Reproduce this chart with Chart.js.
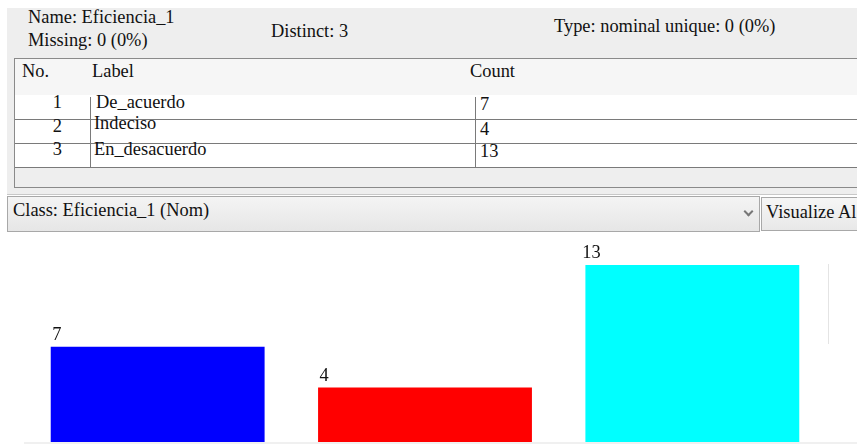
<!DOCTYPE html>
<html lang="es">
<head>
<meta charset="UTF-8">
<title>Eficiencia_1</title>
<script src="https://cdn.jsdelivr.net/npm/chart.js"></script>
<style>
  html, body { margin: 0; padding: 0; background: #fff; }
  body { width: 857px; height: 444px; position: relative; overflow: hidden;
         font-family: "Liberation Serif", "DejaVu Serif", serif; font-size: 18.4px; color: #111; }
  .t { position: absolute; line-height: 18px; white-space: nowrap; }
  .box { position: absolute; }
</style>
</head>
<body>
  <!-- attribute summary panel -->
  <div class="box" style="left:7px;top:8px;width:850px;height:186px;background:#eeeeee;"></div>
  <div class="t" style="left:28px;top:8px;">Name: Eficiencia_1</div>
  <div class="t" style="left:28px;top:31px;">Missing: 0 (0%)</div>
  <div class="t" style="left:271px;top:22px;">Distinct: 3</div>
  <div class="t" style="left:554px;top:17px;">Type: nominal unique: 0 (0%)</div>

  <!-- table -->
  <div class="box" style="left:14px;top:58px;width:850px;height:128px;border:1px solid #8a8a8a;border-right:none;background:#eeeeee;"></div>
  <div class="box" style="left:15px;top:59px;width:842px;height:36px;background:#f6f6f6;"></div>
  <div class="box" style="left:15px;top:95px;width:842px;height:72px;background:#fff;"></div>
  <div class="t" style="left:22px;top:62px;">No.</div>
  <div class="t" style="left:92px;top:62px;">Label</div>
  <div class="t" style="left:470px;top:62px;">Count</div>
  <div id="rows"></div>

  <!-- class selector -->
  <div class="box" style="left:7px;top:194px;width:850px;height:1px;background:#c8c8c8;"></div>
  <div class="box" style="left:7px;top:196px;width:751px;height:34px;border:1px solid #a8a8a8;background:linear-gradient(#f4f4f4,#e6e6e6);"></div>
  <div class="t" style="left:13px;top:201px;">Class: Eficiencia_1 (Nom)</div>
  <div class="box" style="left:745px;top:208px;width:5px;height:5px;border-right:2px solid #777;border-bottom:2px solid #777;transform:rotate(45deg);"></div>
  <div class="box" style="left:761px;top:197px;width:100px;height:32px;border:1px solid #a8a8a8;background:linear-gradient(#f6f6f6,#e8e8e8);"></div>
  <div class="t" style="left:766px;top:203px;">Visualize Al</div>

  <canvas id="chart" width="857" height="212" style="position:absolute;left:0;top:232px;"></canvas>
  <div class="box" style="left:828px;top:264px;width:1px;height:80px;background:#e4e4e4;"></div>
  <div class="box" style="left:24px;top:442px;width:833px;height:2px;background:#f0f0f0;"></div>

<script>
  const categories = ['De_acuerdo', 'Indeciso', 'En_desacuerdo'];
  const counts = [7, 4, 13];
  const barColors = ['#0000ff', '#ff0000', '#00ffff'];

  // table rows built from the same arrays
  const rowTops = [95, 119, 143];
  const labelTops = [93, 114, 140];
  const countTops = [95, 120, 142];
  let html = '';
  categories.forEach((c, i) => {
    const y = rowTops[i];
    html += `<div class="box" style="left:15px;top:${y + 24}px;width:842px;height:1px;background:#7a7a7a;"></div>`;
    html += `<div class="t" style="left:40px;width:22px;text-align:right;top:${labelTops[i] + (i === 1 ? 3 : 0)}px;">${i + 1}</div>`;
    html += `<div class="t" style="left:${i === 0 ? 96 : 94}px;top:${labelTops[i]}px;">${c}</div>`;
    html += `<div class="t" style="left:480px;top:${countTops[i]}px;">${counts[i]}</div>`;
  });
  html += `<div class="box" style="left:90px;top:97px;width:1px;height:70px;background:#7a7a7a;"></div>`;
  html += `<div class="box" style="left:475px;top:97px;width:1px;height:70px;background:#7a7a7a;"></div>`;
  document.getElementById('rows').innerHTML = html;

  // value labels above bars, left side like Weka
  const valueLabels = {
    id: 'valueLabels',
    afterDatasetsDraw(chart) {
      const ctx = chart.ctx;
      const meta = chart.getDatasetMeta(0);
      ctx.save();
      ctx.font = '18.4px "Liberation Serif", "DejaVu Serif", serif';
      ctx.fillStyle = '#111';
      ctx.textAlign = 'center';
      ctx.textBaseline = 'alphabetic';
      meta.data.forEach((bar, i) => {
        const left = bar.x - bar.width / 2;
        ctx.fillText(String(counts[i]), left + 6, bar.y - 7);
      });
      ctx.restore();
    }
  };

  new Chart(document.getElementById('chart'), {
    type: 'bar',
    data: {
      labels: categories,
      datasets: [{
        data: counts,
        backgroundColor: barColors,
        borderWidth: 0,
        categoryPercentage: 1.0,
        barPercentage: 0.8
      }]
    },
    options: {
      responsive: false,
      animation: false,
      layout: { padding: { left: 24, right: 31, top: 33, bottom: 2 } },
      scales: {
        x: { display: false, offset: true },
        y: { display: false, min: 0, max: 13 }
      },
      plugins: { legend: { display: false }, tooltip: { enabled: false } }
    },
    plugins: [valueLabels]
  });
</script>
</body>
</html>
